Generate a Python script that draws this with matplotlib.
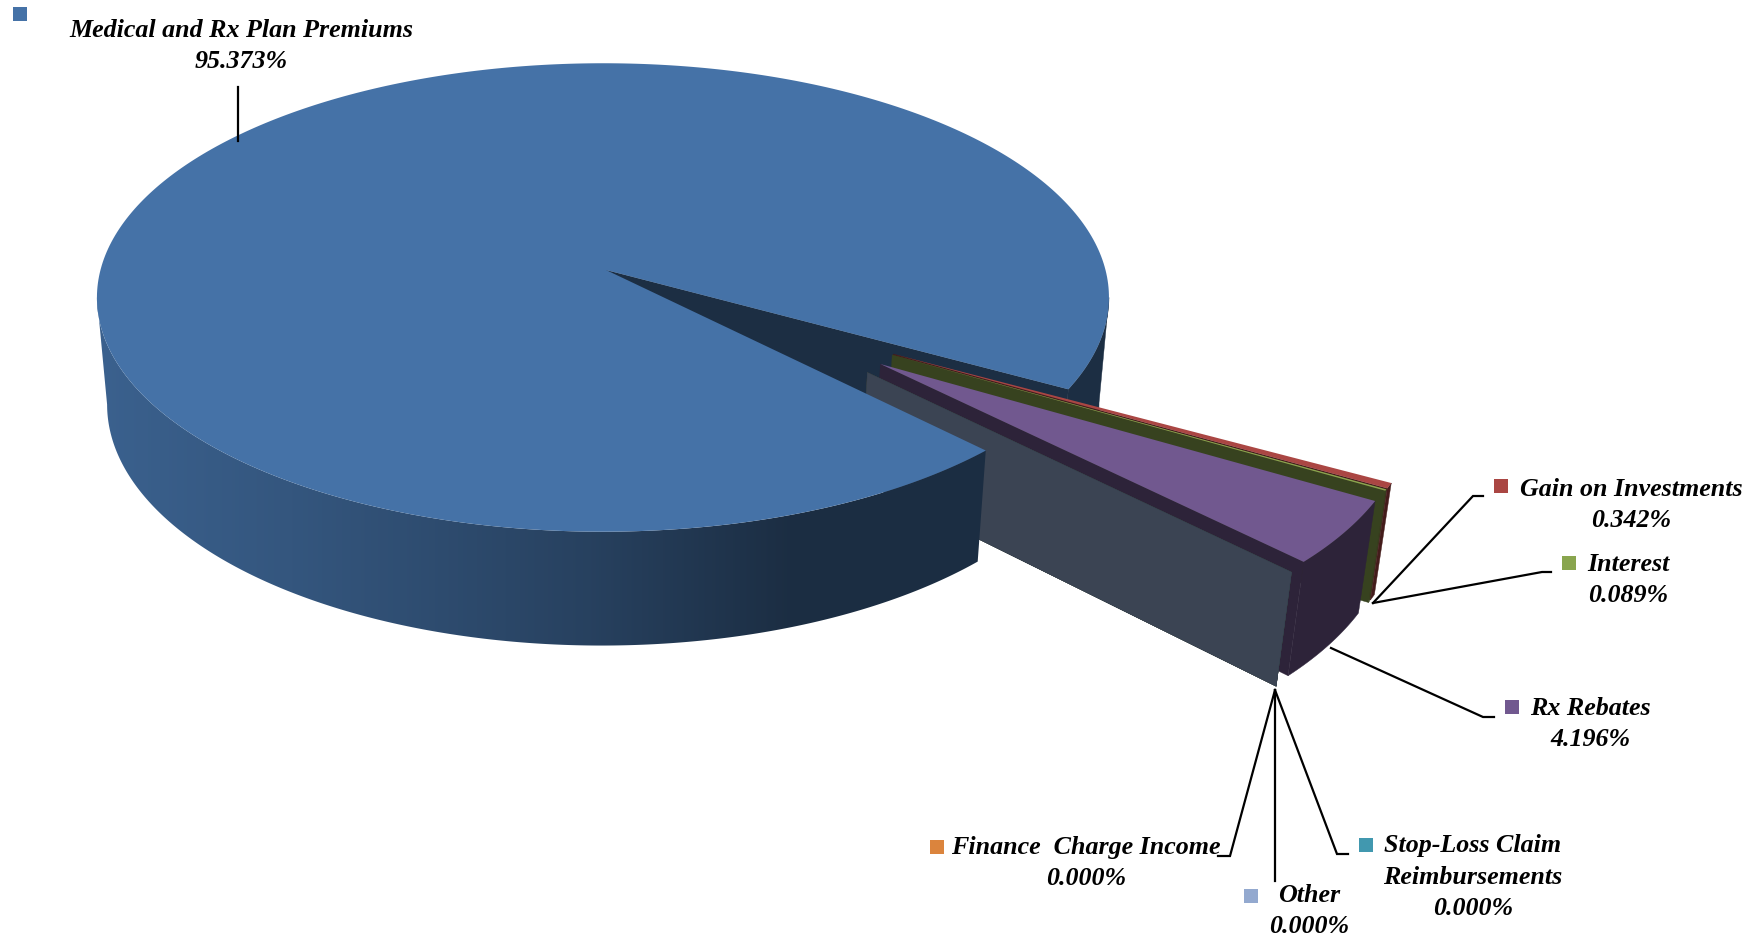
"""Exploded 3D revenue pie, drawn by hand since matplotlib has no perspective pie."""
import numpy as np
from matplotlib import pyplot as plt
from matplotlib.colors import to_rgb
from matplotlib.patches import Polygon

# Chart data, clockwise from the top edge of the gap
categories = ["Gain on Investments", "Interest", "Rx Rebates",
              "Finance  Charge Income", "Stop-Loss Claim\nReimbursements", "Other",
              "Medical and Rx Plan Premiums"]
shares = [0.342, 0.089, 4.196, 0.000, 0.000, 0.000, 95.373]
colors = ["#AA4643", "#89A54E", "#71588F", "#DB843D", "#4198AF", "#93A9CF", "#4572A7"]

# Label layout in pixels: centre of each text block and its colour key
label_x = [1631, 1628, 1590, 1086, 1473, 1309, 241]
label_y = [505, 580, 724, 863, 877, 911, 46]
key_x = [1501, 1569, 1512, 937, 1366, 1251, 20]
key_y = [486, 563, 707, 847, 845, 896, 14]

leaders = [
    ([1373, 1473, 1483], [603, 496, 496]),
    ([1373, 1542, 1551], [603, 572, 572]),
    ([1331, 1483, 1494], [648, 717, 717]),
    ([1275, 1230, 1218], [690, 856, 856]),
    ([1275, 1337, 1348], [690, 854, 854]),
    ([1275, 1275], [690, 881]),
    ([238, 238], [87, 141]),
]

# Projection of the unit disc on to the page, fitted to the picture
CX, CY = 606, 270
A, B = 502.5, 231
PERSP = 0.1173   # far side of the disc shrinks
SKEW = 0.006     # left side is a touch nearer
DEPTH = 108      # wall height on the page
SINK = 0.02      # bottom face is slightly smaller
START = -29.3    # where the first slice begins, degrees

# Exploded slices
EXPLODE = 0.652
SLICE_R = 1.0
WALL_SHADE = 0.4

# Front wall shading, page x against brightness
shade_x = [100, 300, 590, 790]
shade_f = [0.85, 0.75, 0.57, WALL_SHADE]


def project(x, y, d=0.0):
    w = 1 + PERSP * y + SKEW * x + SINK * d
    return CX + A * x / w, CY - (B * y - DEPTH * d) / w


def arc(a1, a2, r=1.0, ox=0.0, oy=0.0, n=60):
    t = np.radians(np.linspace(a1, a2, n))
    return ox + r * np.cos(t), oy + r * np.sin(t)


def shade(color, f):
    return tuple(c * f for c in to_rgb(color))


def wall_outline(x, y, pick=None):
    # outline between two points (or arcs) of the disc, from top face to bottom face
    # pick cuts each arc at its page extreme, so the wall ends on the silhouette
    tx, ty = project(x, y, 0)
    bx, by = project(x, y, 1)
    i = pick(tx) + 1 if pick else len(x)
    j = pick(bx) + 1 if pick else len(x)
    return np.r_[tx[:i], bx[:j][::-1]], np.r_[ty[:i], by[:j][::-1]]


def wall(ax, x, y, color, zorder, pick=None):
    px, py = wall_outline(x, y, pick)
    ax.fill(px, py, fc=color, ec=color, lw=0.3, zorder=zorder)


fig = plt.figure(figsize=(17.44, 9.38), dpi=100)
ax = fig.add_axes([0, 0, 1, 1])

angles = START - np.cumsum([0] + shares) * 3.6
main_color = colors[-1]
main_a1, main_a2 = angles[-2], angles[-1]
dark = shade(main_color, WALL_SHADE)

# Back of the big slice: inner wall of the gap and the outer wall to the right of it
wall(ax, np.array([0, np.cos(np.radians(START))]), np.array([0, np.sin(np.radians(START))]), dark, 1)
x, y = arc(START, 10, n=200)
wall(ax, x, y, dark, 1, pick=np.argmax)

# Small slices, back to front
for ii in range(len(shares) - 1):
    a1, a2 = angles[ii], angles[ii + 1]
    mid = (a1 + a2) / 2
    direction = np.radians(-17.5 + 0.5 * mid)
    ox, oy = EXPLODE * np.cos(direction), EXPLODE * np.sin(direction)
    side = shade(colors[ii], WALL_SHADE)
    x, y = arc(a1, a2, SLICE_R, ox, oy)
    z = 2 + ii
    wall(ax, x, y, side, z)
    wall(ax, np.array([ox, x[-1]]), np.array([oy, y[-1]]), side, z)
    px, py = project(np.r_[ox, x], np.r_[oy, y])
    ax.fill(px, py, fc=colors[ii], ec="none", zorder=z)

# Front wall of the big slice, gradient image clipped to the wall outline
x, y = arc(main_a1, -200, n=400)
px, py = wall_outline(x, y, pick=np.argmin)
page_x = np.arange(1744)
gradient = np.array([shade(main_color, f) for f in np.interp(page_x, shade_x, shade_f)])[None, :, :]
im = ax.imshow(gradient, extent=(0, 1744, 938, 0), aspect="auto", zorder=10, interpolation="bilinear")
im.set_clip_path(Polygon(np.c_[px, py], closed=True, transform=ax.transData))

# Top of the big slice
x, y = arc(main_a1, main_a2, n=400)
px, py = project(np.r_[0, x], np.r_[0, y])
ax.fill(px, py, fc=main_color, ec="none", zorder=11)

# Leader lines, keys and labels
for lx, ly in leaders:
    ax.plot(lx, ly, c="k", lw=1.6, zorder=12, solid_joinstyle="miter")

ax.scatter(key_x, key_y, s=90, marker="s", c=colors, linewidths=0, zorder=12)

for name, share, tx, ty in zip(categories, shares, label_x, label_y):
    ax.text(tx, ty, f"{name}\n{share:.3f}%", ha="center", va="center", fontsize=18.7,
            family="Liberation Serif", weight="bold", style="italic", linespacing=1.46, zorder=13)

ax.set_xlim(0, 1744)
ax.set_ylim(938, 0)
ax.axis("off")
plt.savefig("out.png", dpi=100)
